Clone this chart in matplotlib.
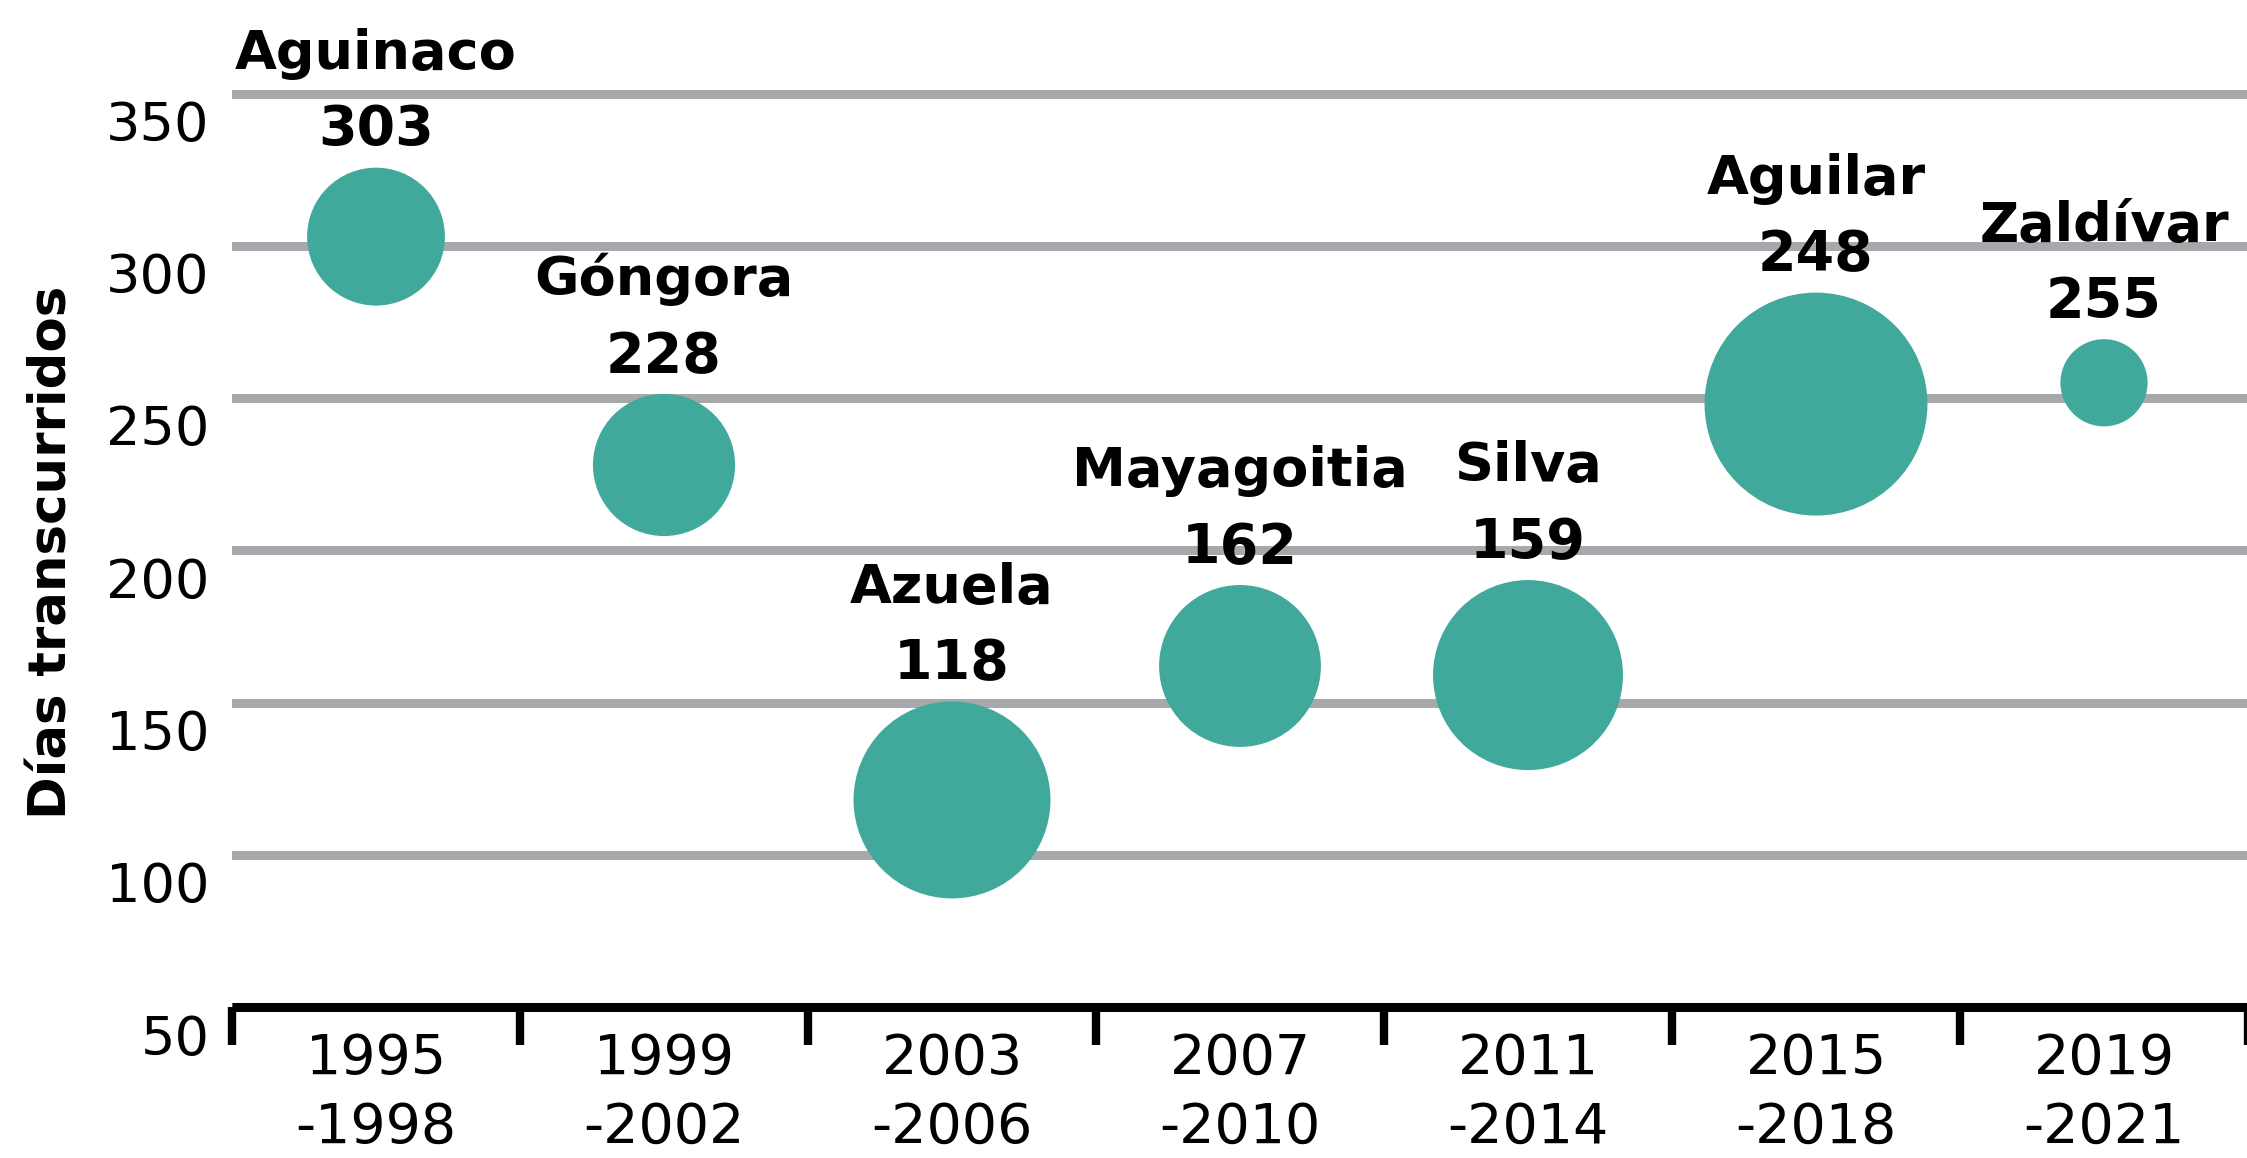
import numpy as np
import matplotlib.pyplot as plt
from matplotlib.transforms import ScaledTranslation

# datos
periodos = ["1995\n-1998", "1999\n-2002", "2003\n-2006", "2007\n-2010",
            "2011\n-2014", "2015\n-2018", "2019\n-2021"]
nombres = ["Aguinaco", "Góngora", "Azuela", "Mayagoitia", "Silva", "Aguilar", "Zaldívar"]
dias = [303, 228, 118, 162, 159, 248, 255]
# tamaño relativo de cada burbuja (área)
magnitud = [19.0, 20.2, 38.8, 26.2, 36.1, 49.7, 7.6]
yticks = [50, 100, 150, 200, 250, 300, 350]

verde = "#41a99c"
gris = "#a7a8ab"

fig = plt.figure(figsize=(22.47, 11.58), dpi=100)
ax = fig.add_axes([232 / 2247, 151 / 1158, 2016 / 2247, 1007 / 1158])

x = np.arange(len(nombres))
s = np.array(magnitud) * 1000 * 0.5184   # área en pt^2
ax.scatter(x, dias, s=s, color=verde, edgecolors="none", zorder=3, clip_on=False)

ax.set_xlim(-0.5, len(nombres) - 0.5)
ax.set_ylim(50, 50 + 1007 / 3.045)

# etiquetas sobre cada burbuja
for xi, yi, nom, si in zip(x, dias, nombres, s):
    r = np.sqrt(si) / 2
    ax.annotate(str(yi), (xi, yi), xytext=(0, r + 16), textcoords="offset points",
                ha="center", va="baseline", fontsize=40, fontweight="bold",
                annotation_clip=False)
    ax.annotate(nom, (xi, yi), xytext=(0, r + 16 + 55), textcoords="offset points",
                ha="center", va="baseline", fontsize=39, fontweight="bold",
                annotation_clip=False)

# ejes
for lado in ["top", "right", "left"]:
    ax.spines[lado].set_visible(False)
ax.spines["bottom"].set_linewidth(6.5)
ax.spines["bottom"].set_capstyle("butt")

ax.set_xticks(x)
ax.set_xticklabels(periodos, fontsize=40, linespacing=1.35)
ax.set_xticks(np.arange(-0.5, len(nombres)), minor=True)
ax.tick_params(axis="x", which="major", length=0, pad=18)
ax.tick_params(axis="x", which="minor", length=27, width=6, direction="out")

ax.set_yticks(yticks)
ax.set_yticklabels([str(v) for v in yticks], fontsize=39)
ax.tick_params(axis="y", length=0, pad=16)
desplazamiento = ScaledTranslation(0, -0.27, fig.dpi_scale_trans)
for lab in ax.get_yticklabels():
    lab.set_transform(lab.get_transform() + desplazamiento)

ax.grid(axis="y", color=gris, linewidth=6.5)
ax.grid(axis="x", visible=False)
ax.set_axisbelow(True)

fig.text(53 / 2247, 1 - 552 / 1158, "Días transcurridos", rotation=90,
         ha="center", va="center", fontsize=37, fontweight="bold")

fig.savefig("out.png", dpi=100)
